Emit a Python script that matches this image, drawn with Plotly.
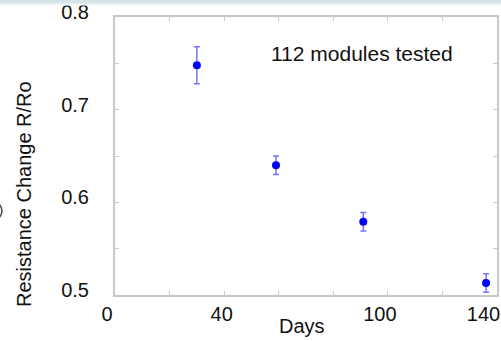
import plotly.graph_objects as go

# Data
days = [30, 59, 91, 136]
resistance_ratio = [0.748, 0.640, 0.579, 0.513]
error = [0.020, 0.010, 0.010, 0.010]

NB = "\u00a0"
x_tickvals = [0, 20, 40, 60, 80, 100, 120, 140]
x_ticktext = ["0", "", NB + NB + "40", "", "", "100", "", "140" + NB + NB]
y_tickvals = [0.5, 0.55, 0.6, 0.65, 0.7, 0.75, 0.8]
y_ticktext = ["0.5", "", "0.6", "", "0.7", "", "0.8"]

FONT = "Liberation Sans, Arial, sans-serif"
AXIS_GRAY = "#c8c8c8"
TXT = "#111111"

L, R, T, B = 115, 4, 17, 46
PW, PH = 501 - L - R, 341 - T - B


def px_x(p):
    return (p - L) / PW


def px_y(p):
    return (341 - B - p) / PH


fig = go.Figure()
fig.add_trace(go.Scatter(
    x=days, y=resistance_ratio, mode="markers",
    marker=dict(color="#0000ff", size=8),
    error_y=dict(type="data", array=error, visible=True,
                 color="rgba(40,40,255,0.65)", thickness=1.5, width=3),
    showlegend=False,
))

fig.update_layout(
    width=501, height=341,
    margin=dict(l=L, r=R, t=T, b=B, autoexpand=False),
    paper_bgcolor="white", plot_bgcolor="white",
    font=dict(family=FONT, size=20, color=TXT),
    xaxis=dict(
        range=[0, 140], tickvals=x_tickvals, ticktext=x_ticktext,
        showgrid=False, zeroline=False, automargin=False,
        showline=True, linecolor=AXIS_GRAY, linewidth=2, mirror="ticks",
        ticks="inside", ticklen=4, tickcolor=AXIS_GRAY, tickwidth=1,
        tickfont=dict(family=FONT, size=20, color=TXT),
        ticklabelshift=-8, ticklabelstandoff=0, ticklabeloverflow="allow",
    ),
    yaxis=dict(
        range=[0.5, 0.8], tickvals=y_tickvals, ticktext=y_ticktext,
        showgrid=False, zeroline=False, automargin=False,
        showline=True, linecolor=AXIS_GRAY, linewidth=2, mirror="ticks",
        ticks="inside", ticklen=4, tickcolor=AXIS_GRAY, tickwidth=1,
        tickfont=dict(family=FONT, size=20, color=TXT),
        ticklabelshift=-5, ticklabelstandoff=20, ticklabeloverflow="allow",
    ),
    annotations=[
        dict(text="Days", xref="paper", yref="paper",
             x=px_x(302), y=px_y(326), xanchor="center", yanchor="middle",
             showarrow=False, font=dict(family=FONT, size=20, color=TXT)),
        dict(text="Resistance Change R/Ro", textangle=-90, xref="paper", yref="paper",
             x=px_x(24), y=px_y(194), xanchor="center", yanchor="middle",
             showarrow=False, font=dict(family=FONT, size=20, color=TXT)),
        dict(text="112 modules tested", xref="paper", yref="paper",
             x=px_x(362), y=px_y(54), xanchor="center", yanchor="middle",
             showarrow=False, font=dict(family=FONT, size=21, color=TXT)),
    ],
    shapes=[
        dict(type="rect", xref="paper", yref="paper",
             x0=px_x(-2), x1=px_x(503), y0=px_y(5.5), y1=px_y(3.5),
             fillcolor="#f1f6f7", line=dict(width=0), layer="above"),
        dict(type="rect", xref="paper", yref="paper",
             x0=px_x(-2), x1=px_x(503), y0=px_y(3.5), y1=px_y(-2),
             fillcolor="#d6e4e8", line=dict(width=0), layer="above"),
        dict(type="path", xref="paper", yref="paper",
             path=(f"M {px_x(-1)} {px_y(204)} Q {px_x(5)} {px_y(211)} {px_x(-1)} {px_y(218)}"),
             line=dict(color="#444444", width=1.5)),
    ],
)

fig.write_html("out.html",
               config={"displayModeBar": False},
               post_script="document.body.style.margin='0';document.body.style.overflow='hidden';")
